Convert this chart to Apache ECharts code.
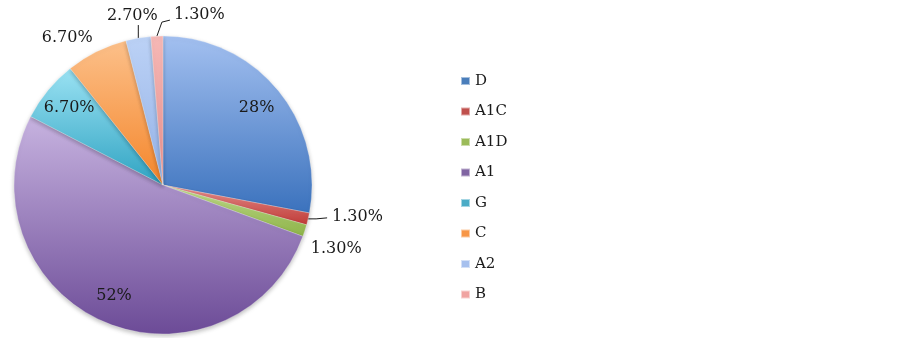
<!DOCTYPE html>
<html><head><meta charset="utf-8">
<script src="https://cdn.jsdelivr.net/npm/echarts@6/dist/echarts.min.js"></script>
<style>html,body{margin:0;padding:0;background:#fff}#c{width:903px;height:338px}</style>
</head><body><div id="c"></div>
<script>
const categories = ['D','A1C','A1D','A1','G','C','A2','B'];
const values = [28,1.3,1.3,52,6.7,6.7,2.7,1.3];
const labelTexts = ['28%','1.30%','1.30%','52%','6.70%','6.70%','2.70%','1.30%'];
const insideLabels = ['D','A1','G'];
const topColors = ['#a3c0f0','#e8918e','#c3dd8e','#c7b3e0','#9be2f3','#fcc08a','#bcd2f6','#f5b8b6'];
const bottomColors = ['#3b72bd','#bf3a37','#8db348','#6c4b97','#2fa3c2','#f4862b','#93b1e6','#e88f8c'];
const legendColors = ['#4a7ebb','#c0504d','#9bbb59','#8064a2','#4bacc6','#f79646','#a6c0ee','#f0a3a1'];

// label placement styles for outside labels, relative to the slice edge point
const outsideStyle = {
  'A1C': {dx:24, dy:-2, align:'left', line:[[8,0],[19,-1]]},
  'A1D': {dx:6, dy:18, align:'left', line:null},
  'C':   {dx:-4, dy:-14, align:'right', line:null},
  'A2':  {dx:-6, dy:-22, align:'center', line:[[0,-7],[0,-13]]},
  'B':   {dx:17, dy:-21, align:'left', line:[[5,-14],[13,-16]]}
};

const font = 'DejaVu Serif';
const grad = i => new echarts.graphic.LinearGradient(0,0,0,1,[{offset:0,color:topColors[i]},{offset:1,color:bottomColors[i]}]);

const mainData = categories.map((n,i)=>({
  name:n, value:values[i],
  itemStyle:{color:grad(i)},
  label:{show: !insideLabels.includes(n)},
  labelLine:{show: !insideLabels.includes(n)}
}));
const overlayData = categories.map((n,i)=>({
  name:n, value:values[i],
  label:{show: insideLabels.includes(n)}
}));

const chart = echarts.init(document.getElementById('c'),null,{renderer:'canvas'});
chart.setOption({
  animation:false,
  backgroundColor:'#fff',
  legend:{
    orient:'vertical', left:455, top:68,
    itemWidth:9, itemHeight:8, itemGap:14.5,
    icon:'rect',
    textStyle:{fontFamily:font,fontSize:15,color:'#1a1a1a',lineHeight:16},
    data: categories.map((n,i)=>({name:n,itemStyle:{color:legendColors[i]}}))
  },
  series:[{
    type:'pie', center:[163,185], radius:149, startAngle:90, clockwise:true,
    avoidLabelOverlap:false,
    itemStyle:{borderColor:'rgba(255,255,255,0.5)',borderWidth:0.5,shadowBlur:4,shadowColor:'rgba(0,0,0,0.25)',shadowOffsetY:2},
    label:{position:'outside',fontFamily:font,fontSize:16,color:'#1a1a1a',
      formatter:p=>labelTexts[p.dataIndex]},
    labelLine:{length:8,length2:6,lineStyle:{color:'#1a1a1a',width:1}},
    emphasis:{disabled:true},
    labelLayout: function(params){
      const name = categories[params.dataIndex];
      const st = outsideStyle[name];
      if (!st || !params.labelLinePoints) return {};
      const a = params.labelLinePoints[0];
      const out = {x:a[0]+st.dx, y:a[1]+st.dy, align:st.align, verticalAlign:'middle'};
      if (st.line) {
        out.labelLinePoints = [[a[0],a[1]]].concat(st.line.map(p=>[a[0]+p[0],a[1]+p[1]]));
      } else {
        out.labelLinePoints = [[a[0],a[1]],[a[0],a[1]],[a[0],a[1]]];
      }
      return out;
    },
    data:mainData
  },{
    type:'pie', center:[163,185], radius:[88,149], startAngle:90, clockwise:true,
    silent:true,
    itemStyle:{color:'rgba(0,0,0,0)'},
    label:{position:'inside',fontFamily:font,fontSize:16,color:'#1a1a1a',
      formatter:p=>labelTexts[p.dataIndex]},
    labelLine:{show:false},
    emphasis:{disabled:true},
    data:overlayData
  }]
});
</script></body></html>
